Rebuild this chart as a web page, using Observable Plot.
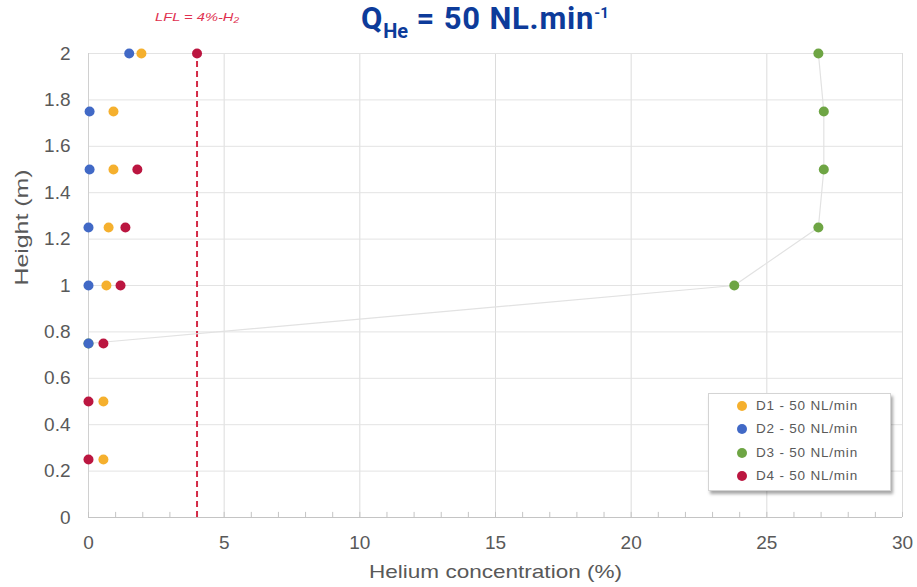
<!DOCTYPE html>
<html><head><meta charset="utf-8">
<script src="https://cdn.jsdelivr.net/npm/d3@7"></script>
<script src="https://cdn.jsdelivr.net/npm/@observablehq/plot@0.6"></script>
<style>
body{margin:0;background:#fff;}
#wrap{position:relative;width:917px;height:587px;font-family:"Liberation Sans",Arial,sans-serif;}
#title{position:absolute;left:361px;top:2px;white-space:nowrap;font-family:Roboto,"Liberation Sans",sans-serif;font-weight:bold;font-size:31px;letter-spacing:0.8px;line-height:34px;color:#0d3b9a;}
#title sub{font-size:20px;vertical-align:-9px;line-height:0;letter-spacing:0;}
#title sup{font-size:15px;vertical-align:11px;line-height:0;letter-spacing:0;}
#legend{position:absolute;left:708px;top:393px;width:181px;height:96px;background:#fff;border:1px solid #d4d4d4;box-shadow:2px 3px 3px rgba(0,0,0,0.35);font-size:13.5px;letter-spacing:0.8px;color:#595959;}
.li{position:absolute;left:28px;height:14px;line-height:14px;white-space:nowrap;}
.li span{display:inline-block;width:10px;height:10px;border-radius:50%;margin-right:9px;vertical-align:-1px;}
</style></head>
<body><div id="wrap"><div id="title">Q<sub>He</sub> = 50 NL.min<sup>-1</sup></div><div id="legend"></div></div>
<script>
const heights = [2, 1.75, 1.5, 1.25, 1, 0.75, 0.5, 0.25];
const seriesNames = ["D1 - 50 NL/min", "D2 - 50 NL/min", "D3 - 50 NL/min", "D4 - 50 NL/min"];
const seriesColors = ["#f5b02e", "#4169c6", "#6ea544", "#bb1640"];
// values per height (null = no point)
const valsD1 = [1.95, 0.92, 0.92, 0.74, 0.66, null, 0.55, 0.55];
const valsD2 = [1.5, 0.04, 0.04, 0.0, 0.0, 0.0, null, null];
const valsD3 = [26.9, 27.1, 27.1, 26.9, 23.8, 0.0, null, null];
const valsD4 = [4.0, null, 1.8, 1.36, 1.18, 0.55, 0.0, 0.0];
const lfl = 4;
const lflLabel = "LFL = 4%-H₂";
const xTicks = [0, 5, 10, 15, 20, 25, 30];
const yTicks = [0, 0.2, 0.4, 0.6, 0.8, 1, 1.2, 1.4, 1.6, 1.8, 2];
const minorX = d3.range(0, 31, 1);
const xTitle = "Helium concentration (%)";
const yTitle = "Height (m)";

const all = [valsD1, valsD2, valsD3, valsD4];
const points = [];
all.forEach((arr, s) => arr.forEach((v, i) => { if (v != null) points.push({x: v, y: heights[i], s}); }));
const lineData = heights.map((h, i) => ({x: valsD3[i], y: h})).filter(d => d.x != null);
const drawOrder = [2, 1, 0, 3];
const ordered = drawOrder.flatMap(s => points.filter(p => p.s === s));

const chart = Plot.plot({
  width: 917, height: 587,
  marginLeft: 88, marginRight: 15, marginTop: 53, marginBottom: 70,
  style: {fontFamily: "'Liberation Sans', Arial, sans-serif", background: "transparent"},
  x: {domain: [0, 30]},
  y: {domain: [0, 2]},
  marks: [
    Plot.gridX(xTicks, {stroke: "#dcdcdc", strokeOpacity: 1}),
    Plot.gridY(yTicks, {stroke: "#e3e3e3", strokeOpacity: 1}),
    Plot.ruleX([0], {stroke: "#d0d0d0"}),
    Plot.ruleY([0], {stroke: "#c4c4c4", strokeWidth: 1.2}),
    Plot.ruleX(minorX, {y1: 0, y2: 0.022, stroke: "#c4c4c4"}),
    Plot.axisX(xTicks, {tickSize: 0, tickPadding: 18, fontSize: 19, fill: "#595959", label: null}),
    Plot.axisY(yTicks, {tickSize: 0, tickPadding: 18, fontSize: 19, fill: "#595959", label: null, tickFormat: d => String(d)}),
    Plot.text([xTitle], {frameAnchor: "bottom", dy: 60, fontSize: 19, fill: "#595959", className: "xtitle"}),
    Plot.text([yTitle], {frameAnchor: "left", dx: -66, rotate: -90, fontSize: 18, fill: "#595959", className: "ytitle"}),
    Plot.ruleX([lfl], {y1: 0, y2: 2, stroke: "#d42a46", strokeWidth: 2, strokeDasharray: "6,4"}),
    Plot.text([lflLabel], {x: lfl, y: 2, dy: -36, fontSize: 11, fontStyle: "italic", fill: "#e0304f", className: "lfl"}),
    Plot.line(lineData, {x: "x", y: "y", stroke: "#e2e2e2", strokeWidth: 1.2}),
    Plot.dot(ordered, {x: "x", y: "y", r: 5, fill: d => seriesColors[d.s], stroke: "none"})
  ]
});
// stretch titles to match the reference's wide lettering
[[".xtitle", 253], [".ytitle", 116], [".lfl", 84]].forEach(([sel, len]) => {
  chart.querySelectorAll(sel + " text").forEach(t => {
    t.setAttribute("textLength", len);
    t.setAttribute("lengthAdjust", "spacingAndGlyphs");
  });
});
document.getElementById("wrap").prepend(chart);
chart.style.position = "absolute"; chart.style.left = "0"; chart.style.top = "0";
const leg = document.getElementById("legend");
seriesNames.forEach((n, i) => {
  const div = document.createElement("div");
  div.className = "li";
  div.style.top = (5 + i * 23.3) + "px";
  div.innerHTML = `<span style="background:${seriesColors[i]}"></span>${n}`;
  leg.appendChild(div);
});
</script></body></html>
